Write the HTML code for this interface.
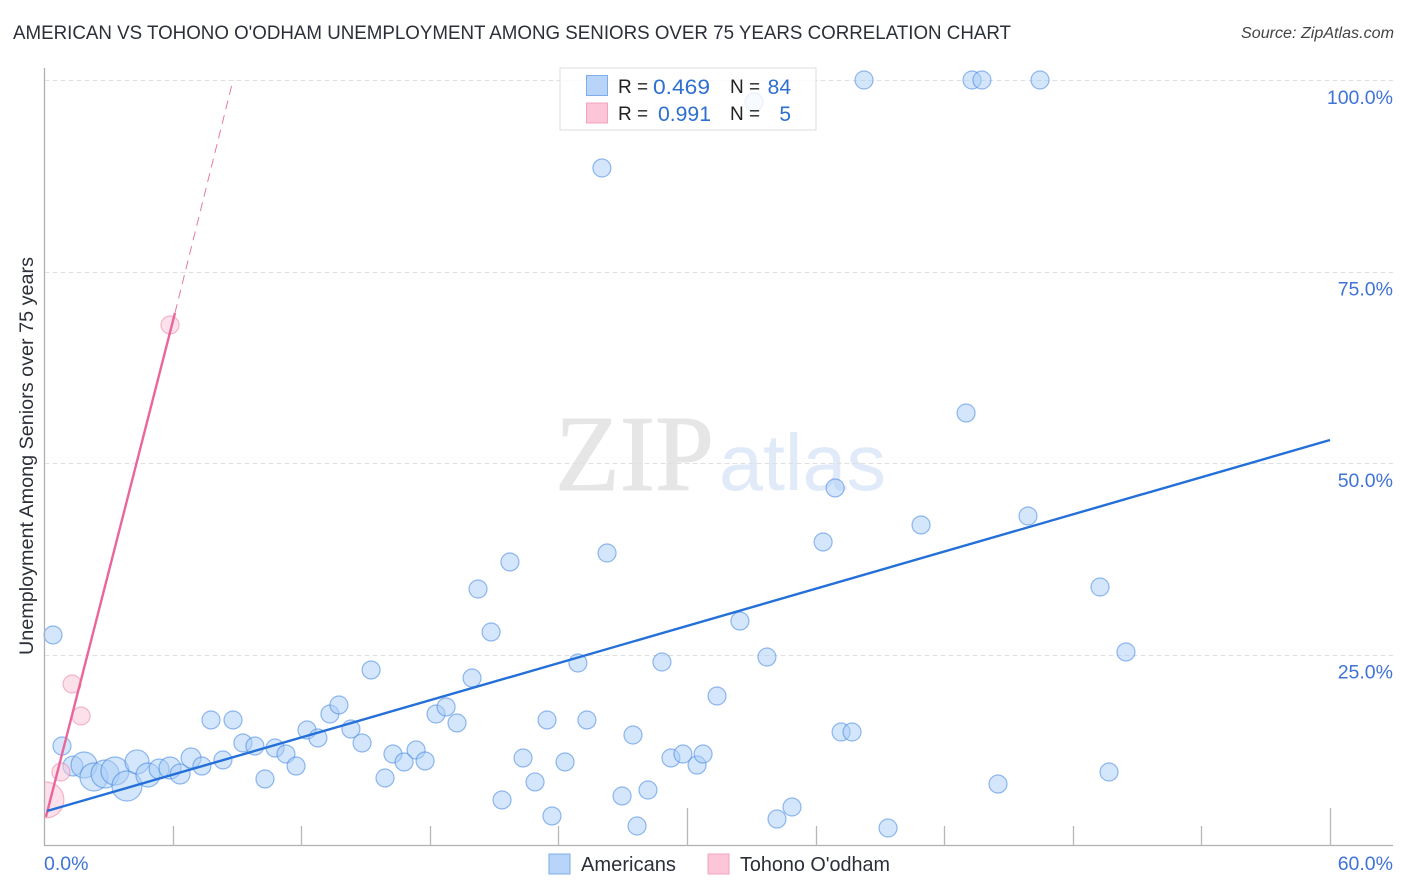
<!DOCTYPE html>
<html lang="en">
<head>
<meta charset="utf-8">
<title>American vs Tohono O'odham Unemployment Among Seniors Over 75 Years Correlation Chart</title>
<style>
html,body{margin:0;padding:0;background:#fff;width:1406px;height:892px;overflow:hidden}
svg{display:block}
text{font-family:"Liberation Sans",sans-serif}
</style>
</head>
<body>
<svg id="chart" xmlns="http://www.w3.org/2000/svg" width="1406" height="892" viewBox="0 0 1406 892">
  <text x="13" y="39" font-size="19.5" fill="#2b2f38" textLength="998" lengthAdjust="spacingAndGlyphs">AMERICAN VS TOHONO O'ODHAM UNEMPLOYMENT AMONG SENIORS OVER 75 YEARS CORRELATION CHART</text>
  <text x="1394" y="38" font-size="15.5" font-style="italic" fill="#444" text-anchor="end" textLength="153" lengthAdjust="spacingAndGlyphs">Source: ZipAtlas.com</text>
  <g>
    <text x="555" y="490" font-size="108" fill="#e6e6e6" stroke="#e6e6e6" stroke-width="1" textLength="159" lengthAdjust="spacingAndGlyphs" style="font-family:'Liberation Serif',serif">ZIP</text>
    <text x="719" y="490" font-size="80" fill="#e0eaf9" textLength="167" lengthAdjust="spacingAndGlyphs">atlas</text>
  </g>
  <g id="grid"></g>
  <g id="points-americans"></g>
  <g id="points-tohono"></g>
  <rect x="0" y="770" width="44" height="60" fill="#fff"/>
  <g id="axes"></g>
  <g id="trends"></g>
  <g>
    <rect x="560" y="68" width="256" height="62" fill="#fff" fill-opacity="0.8" stroke="#dedede" stroke-width="1"/>
    <rect x="586.5" y="75.5" width="21" height="20" fill="#b8d4f8" stroke="#7dadea" stroke-width="1"/>
    <rect x="586.5" y="103" width="21" height="20" fill="#fcc5d8" stroke="#f3a3bf" stroke-width="1"/>
    <text x="618" y="93" font-size="19" fill="#222">R =</text>
    <text x="653" y="94" font-size="21" fill="#2f6fd0" textLength="57" lengthAdjust="spacingAndGlyphs">0.469</text>
    <text x="730" y="93" font-size="19" fill="#222">N =</text>
    <text x="791" y="94" font-size="21" fill="#2f6fd0" text-anchor="end">84</text>
    <text x="618" y="120" font-size="19" fill="#222">R =</text>
    <text x="658" y="121" font-size="21" fill="#2f6fd0" textLength="53" lengthAdjust="spacingAndGlyphs">0.991</text>
    <text x="730" y="120" font-size="19" fill="#222">N =</text>
    <text x="791" y="121" font-size="21" fill="#2f6fd0" text-anchor="end">5</text>
  </g>
  <text transform="translate(33,655) rotate(-90)" font-size="19" fill="#2b2f38" textLength="398" lengthAdjust="spacingAndGlyphs">Unemployment Among Seniors over 75 years</text>
  <g>
    <rect x="549" y="854" width="21" height="20" fill="#b8d4f8" stroke="#7dadea" stroke-width="1"/>
    <text x="581" y="871" font-size="20" fill="#2b2f38" textLength="95" lengthAdjust="spacingAndGlyphs">Americans</text>
    <rect x="708" y="854" width="21" height="20" fill="#fcc5d8" stroke="#f3a3bf" stroke-width="1"/>
    <text x="740" y="871" font-size="20" fill="#2b2f38" textLength="150" lengthAdjust="spacingAndGlyphs">Tohono O'odham</text>
  </g>
</svg>
<script>
// Tick values and labels
const xTickValues = [0, 6, 12, 18, 24, 30, 36, 42, 48, 54, 60];
const xMajorTicks = [30, 60];
const xEdgeValues = [0, 60];
const xEdgeLabels = ['0.0%', '60.0%'];
const yTickValues = [25, 50, 75, 100];
const yTickLabels = ['25.0%', '50.0%', '75.0%', '100.0%'];

// Americans series (percent values; weight scales the bubble)
const americansX = [0.42,0.84,1.35,1.87,2.33,2.85,3.31,3.87,4.34,4.85,5.37,5.88,6.35,6.86,7.37,7.79,8.82,8.35,9.28,9.84,10.31,10.78,11.29,11.76,12.27,12.78,13.34,13.76,14.32,14.84,15.26,15.91,16.28,16.80,17.36,17.78,18.29,18.76,19.27,19.97,20.25,20.86,21.37,21.74,22.35,22.91,23.47,23.70,24.31,24.91,25.33,26.03,26.27,26.97,27.48,27.67,28.18,28.83,29.25,29.81,30.47,30.75,31.40,32.47,33.13,33.73,34.20,34.90,36.35,36.91,37.19,37.70,38.26,39.38,40.92,43.02,43.30,43.76,44.51,45.91,46.47,49.27,49.69,50.48];
const americansY = [27.55,13.05,10.44,10.57,9.01,9.40,9.79,7.83,10.97,9.27,10.05,10.18,9.40,11.49,10.44,16.45,16.45,11.23,13.45,13.05,8.75,12.79,12.01,10.44,15.14,14.10,17.23,18.41,15.27,13.45,22.98,8.88,12.01,10.97,12.53,11.10,17.23,18.15,16.06,21.93,33.55,27.94,6.01,37.08,11.49,8.36,16.45,3.92,10.97,23.89,16.45,88.51,38.25,6.53,14.49,2.61,7.31,24.02,11.49,12.01,10.57,12.01,19.58,29.37,97.13,24.67,3.52,5.09,39.69,46.74,14.88,14.88,100,2.35,41.91,56.53,100,100,8.09,43.08,100,33.81,9.66,25.33];
const americansWeight = [1,1,1.23,2.09,2.42,2.42,2.42,2.78,1.78,1.78,1.23,1.49,1.23,1.23,1,1,1,1,1,1,1,1,1,1,1,1,1,1,1,1,1,1,1,1,1,1,1,1,1,1,1,1,1,1,1,1,1,1,1,1,1,1,1,1,1,1,1,1,1,1,1,1,1,1,1,1,1,1,1,1,1,1,1,1,1,1,1,1,1,1,1,1,1,1];

// Tohono O'odham series
const tohonoX = [0.09, 0.79, 1.31, 1.73, 5.88];
const tohonoY = [6.01, 9.66, 21.15, 16.97, 68.02];
const tohonoWeight = [4, 1, 1, 1, 1];

// Trend lines (percent values)
const americansTrendX = [0.14, 60];
const americansTrendY = [4.57, 53.0];
const tohonoTrendX = [0.09, 6.11];
const tohonoTrendY = [3.79, 69.58];
const tohonoExtensionX = [6.11, 8.82];
const tohonoExtensionY = [69.58, 100];

// Axis functions
function xScale(v) { return 44 + v * (1330 - 44) / 60; }
function yScale(v) { return 846 - v * (846 - 80) / 100; }
function radius(w) { return 9 * Math.sqrt(w); }

const NS = 'http://www.w3.org/2000/svg';
function make(parent, tag, attrs) {
  const n = document.createElementNS(NS, tag);
  for (const k in attrs) n.setAttribute(k, attrs[k]);
  parent.appendChild(n);
  return n;
}

const grid = document.getElementById('grid');
const axes = document.getElementById('axes');

yTickValues.forEach(function (v, i) {
  const y = Math.round(yScale(v)) + 0.5;
  const line = make(grid, 'line', {x1: 44.5, x2: 1393, y1: y, y2: y, stroke: '#e0e0e0', 'stroke-width': 1, 'stroke-dasharray': '5 3'});
  
  
  const label = make(axes, 'text', {x: 1393, y: yScale(v) + 24, 'font-size': 19.5, fill: '#3f73d6', 'text-anchor': 'end'});
  label.textContent = yTickLabels[i];
  
  
});

const yAxisLine = make(axes, 'line', {x1: 44.5, x2: 44.5, y1: 68, y2: 846, stroke: '#b0b0b0', 'stroke-width': 1.3});



const xAxisLine = make(axes, 'line', {x1: 44, x2: 1393, y1: 845.5, y2: 845.5, stroke: '#b0b0b0', 'stroke-width': 1.3});



xTickValues.slice(1).forEach(function (v) {
  const x = Math.round(xScale(v)) + 0.5;
  const top = xMajorTicks.indexOf(v) >= 0 ? 808 : 826;
  const tick = make(axes, 'line', {x1: x, x2: x, y1: top, y2: 846, stroke: '#b8b8b8', 'stroke-width': 1.3});
  
  
});

xEdgeValues.forEach(function (v, i) {
  const label = make(axes, 'text', {x: v === 0 ? xScale(v) : 1393, y: 870, 'font-size': 19.5, fill: '#3f73d6', 'text-anchor': v === 0 ? 'start' : 'end'});
  label.textContent = xEdgeLabels[i];
  
  
});

const americansGroup = document.getElementById('points-americans');
americansX.forEach(function (v, i) {
  const c = make(americansGroup, 'circle', {cx: xScale(v), cy: yScale(americansY[i]), r: radius(americansWeight[i]), fill: 'rgba(170,205,248,0.5)', stroke: 'rgba(62,132,226,0.55)', 'stroke-width': 1.2});
  
  
});

const tohonoGroup = document.getElementById('points-tohono');
tohonoX.forEach(function (v, i) {
  const c = make(tohonoGroup, 'circle', {cx: xScale(v), cy: yScale(tohonoY[i]), r: radius(tohonoWeight[i]), fill: 'rgba(250,195,215,0.5)', stroke: 'rgba(236,130,168,0.55)', 'stroke-width': 1.2});
  
  
});

const trends = document.getElementById('trends');
const extension = make(trends, 'line', {x1: xScale(tohonoExtensionX[0]), y1: yScale(tohonoExtensionY[0]), x2: xScale(tohonoExtensionX[1]), y2: yScale(tohonoExtensionY[1]), stroke: '#e9789f', 'stroke-width': 1, 'stroke-dasharray': '9 6'});



const tohonoTrend = make(trends, 'line', {x1: xScale(tohonoTrendX[0]), y1: yScale(tohonoTrendY[0]), x2: xScale(tohonoTrendX[1]), y2: yScale(tohonoTrendY[1]), stroke: '#e9669a', 'stroke-width': 2.4});



const americansTrend = make(trends, 'line', {x1: xScale(americansTrendX[0]), y1: yScale(americansTrendY[0]), x2: xScale(americansTrendX[1]), y2: yScale(americansTrendY[1]), stroke: '#2470d8', 'stroke-width': 2.4});


</script>
</body>
</html>
